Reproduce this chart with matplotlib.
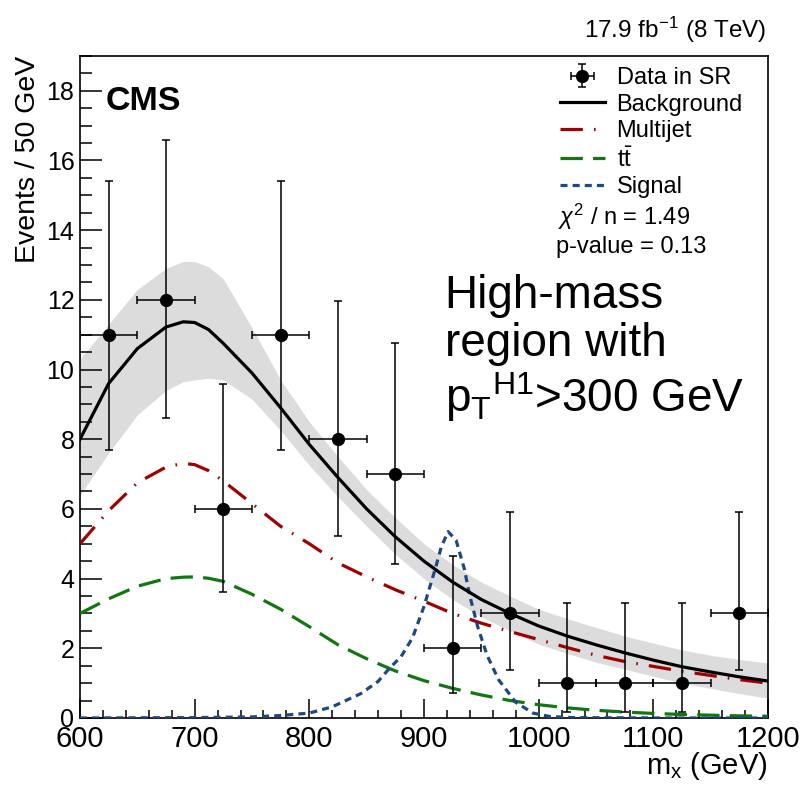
import numpy as np
import matplotlib.pyplot as plt
from matplotlib.ticker import MultipleLocator

plt.rcParams['font.family'] = ['Liberation Sans', 'DejaVu Sans']
plt.rcParams['mathtext.fontset'] = 'custom'
plt.rcParams['mathtext.rm'] = 'Liberation Sans'
plt.rcParams['mathtext.it'] = 'Liberation Sans:italic'

# data points (bin centres, counts, 68% Poisson interval ends)
data_x = [625, 675, 725, 775, 825, 875, 925, 975, 1025, 1075, 1125, 1175]
data_y = [11, 12, 6, 11, 8, 7, 2, 3, 1, 1, 1, 3]
data_lo = [7.7, 8.6, 3.62, 7.7, 5.23, 4.42, 0.71, 1.37, 0.17, 0.17, 0.17, 1.37]
data_hi = [15.41, 16.6, 9.58, 15.41, 11.98, 10.77, 4.64, 5.92, 3.30, 3.30, 3.30, 5.92]

# fitted curves
m_grid = [600, 625, 650, 675, 690, 700, 712, 725, 750, 775, 800, 825, 850, 875, 900,
          925, 950, 975, 1000, 1025, 1050, 1075, 1100, 1125, 1150, 1175, 1200]
bkg = [8.0, 9.6, 10.6, 11.22, 11.37, 11.35, 11.15, 10.75, 9.9, 8.9, 7.85, 6.9, 6.0, 5.2, 4.5,
       3.9, 3.4, 3.0, 2.64, 2.35, 2.1, 1.87, 1.66, 1.47, 1.32, 1.18, 1.06]
bkg_lo = [6.4, 7.6, 8.7, 9.4, 9.65, 9.7, 9.75, 9.7, 9.15, 8.25, 7.25, 6.35, 5.5, 4.7, 4.0,
          3.4, 2.9, 2.5, 2.12, 1.85, 1.6, 1.4, 1.2, 1.0, 0.85, 0.7, 0.57]
bkg_hi = [10.3, 11.3, 12.3, 12.9, 13.1, 13.1, 12.95, 12.6, 11.2, 9.7, 8.5, 7.5, 6.55, 5.75, 5.0,
          4.4, 3.9, 3.5, 3.12, 2.85, 2.6, 2.35, 2.15, 1.95, 1.8, 1.68, 1.58]
multijet = [5.0, 5.95, 6.75, 7.2, 7.31, 7.27, 7.1, 6.8, 6.15, 5.5, 5.0, 4.45, 4.05, 3.68, 3.35,
            3.0, 2.72, 2.48, 2.25, 2.02, 1.8, 1.62, 1.48, 1.34, 1.22, 1.1, 1.0]
ttbar = [3.0, 3.42, 3.78, 4.0, 4.04, 4.05, 4.01, 3.92, 3.55, 3.12, 2.62, 2.1, 1.7, 1.35, 1.07,
         0.85, 0.66, 0.5, 0.38, 0.29, 0.22, 0.17, 0.13, 0.1, 0.08, 0.06, 0.05]

sig_x = [600, 700, 750, 775, 800, 820, 845, 860, 870, 880, 890, 900, 910, 915, 921,
         928, 935, 940, 947, 955, 965, 980, 995, 1010, 1030, 1100, 1200]
sig_y = [0.0, 0.01, 0.03, 0.07, 0.14, 0.32, 0.7, 1.05, 1.43, 1.76, 2.3, 3.2, 4.3, 4.9, 5.35,
         5.1, 4.3, 3.5, 2.6, 1.8, 1.1, 0.45, 0.14, 0.04, 0.01, 0.0, 0.0]

fig = plt.figure(figsize=(8.04, 7.85), dpi=100)
ax = fig.add_axes([0.0995, 0.0854, 0.8557, 0.8433])

ax.fill_between(m_grid, bkg_lo, bkg_hi, color='#dcdcdc', lw=0, zorder=1)
l_mj, = ax.plot(m_grid, multijet, color='#a00000', lw=2.3,
                linestyle=(0, (7, 3.5, 0.5, 3.5)), zorder=3)
l_tt, = ax.plot(m_grid, ttbar, color='#117711', lw=2.3,
                linestyle=(0, (7, 3.2)), zorder=3)
l_sig, = ax.plot(sig_x, sig_y, color='#1a4a80', lw=2.3,
                 linestyle=(0, (2.2, 1.6)), zorder=3)
l_bkg, = ax.plot(m_grid, bkg, color='black', lw=2.3, zorder=4)

dy_lo = np.array(data_y) - np.array(data_lo)
dy_hi = np.array(data_hi) - np.array(data_y)
eb = ax.errorbar(data_x, data_y, xerr=25, yerr=[dy_lo, dy_hi], fmt='o', color='black',
                 ms=8.5, elinewidth=1.1, capsize=3, capthick=1.1, zorder=5)

ax.set_xlim(600, 1200)
ax.set_ylim(0, 19)
ax.xaxis.set_major_locator(MultipleLocator(100))
ax.xaxis.set_minor_locator(MultipleLocator(20))
ax.yaxis.set_major_locator(MultipleLocator(2))
ax.yaxis.set_minor_locator(MultipleLocator(0.5))
ax.tick_params(axis='x', which='major', direction='in', length=14, width=1.1,
               labelsize=21, pad=5)
ax.tick_params(axis='x', which='minor', direction='in', length=6, width=1.1)
ax.tick_params(axis='y', which='major', direction='in', length=15.5, width=1.1,
               labelsize=18, pad=4)
ax.tick_params(axis='y', which='minor', direction='in', length=8.4, width=1.1)
for s in ax.spines.values():
    s.set_linewidth(1.2)

ax.set_xlabel(r'm$_{\mathrm{x}}$ (GeV)', fontsize=21, loc='right', labelpad=-2)
ax.set_ylabel('Events / 50 GeV', fontsize=20.5, loc='top', labelpad=4)

ax.text(0.037, 0.955, 'CMS', transform=ax.transAxes, fontsize=24.5, fontweight='bold',
        va='top', ha='left')
fig.text(0.953, 0.962, r'17.9 fb$^{\mathrm{-1}}$ (8 TeV)', fontsize=17.5,
         ha='right', va='center')

leg = ax.legend([eb, l_bkg, l_mj, l_tt, l_sig],
                ['Data in SR', 'Background', 'Multijet', r't$\bar{\mathrm{t}}$', 'Signal'],
                loc='upper left', bbox_to_anchor=(0.677, 1.005), frameon=False,
                fontsize=17, handlelength=1.9, handletextpad=0.5,
                labelspacing=0.2, borderaxespad=0.2)
ax.text(0.695, 0.757, r'$\chi^2$ / n = 1.49', transform=ax.transAxes, fontsize=17,
        ha='left', va='center')
ax.text(0.692, 0.712, 'p-value = 0.13', transform=ax.transAxes, fontsize=17,
        ha='left', va='center')

ax.text(0.53, 0.557, 'High-mass\nregion with\n' + r'p$_{\mathrm{T}}$$^{\mathrm{H1}}$>300 GeV',
        transform=ax.transAxes, fontsize=33, ha='left', va='center', linespacing=1.1)

fig.savefig('out.png', dpi=100)
